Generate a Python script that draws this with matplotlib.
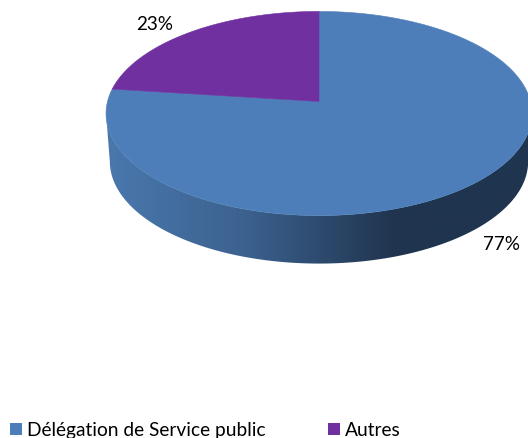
import numpy as np
import matplotlib.pyplot as plt
from matplotlib.colors import LinearSegmentedColormap
from matplotlib.patches import Polygon, Rectangle

categories = ['Délégation de Service public', 'Autres']
values = [77, 23]
labels = ['77%', '23%']
colors = ['#4d7eb9', '#7030a0']

plt.rcParams['font.family'] = ['Lato', 'DejaVu Sans']


# tilted disc -> pixels, perspective so the far half looks smaller
def project(t, scale=1.0, drop=0.0):
    u, v = np.cos(t), np.sin(t)
    d = 1 + 0.1176 * v
    return 319 + scale * 211.5 * u / d, (102.5 - 88.6 * v) / d + drop


fig = plt.figure(figsize=(5.28, 4.39), dpi=100)
ax = fig.add_axes([0, 0, 1, 1])
ax.set_xlim(0, 528)
ax.set_ylim(439, 0)
ax.axis('off')

# side wall, front part of the disc between the two silhouette points
front = np.linspace(np.pi + 0.118, 2 * np.pi - 0.118, 200)
tx, ty = project(front)
bx, by = project(front, scale=0.982, drop=48)
wall = Polygon(np.r_[np.c_[tx, ty], np.c_[bx, by][::-1]], closed=True,
               facecolor='none', edgecolor='none')
ax.add_patch(wall)
shade = LinearSegmentedColormap.from_list('shade', [(0, '#4a78ad'), (0.32, '#3c6290'),
                                                    (0.68, '#20344e'), (1, '#1f344e')])
img = ax.imshow(np.linspace(0, 1, 256)[None, :], extent=(106, 532, 439, 0), cmap=shade,
                aspect='auto', zorder=1)
img.set_clip_path(wall)
ax.set_xlim(0, 528)
ax.set_ylim(439, 0)

# top face, slices run clockwise from 12 o'clock
start = np.pi / 2
for val, col in zip(values, colors):
    end = start - 2 * np.pi * val / sum(values)
    x, y = project(np.linspace(start, end, 200))
    ax.fill(np.r_[319, x], np.r_[102.5, y], facecolor=col, edgecolor=col, lw=0.4, zorder=2)
    start = end

ax.text(502, 245, labels[0], fontsize=13.6, color='black', ha='center', va='center')
ax.text(155, 24, labels[1], fontsize=13.6, color='black', ha='center', va='center')

# legend along the bottom edge
ax.add_patch(Rectangle((10, 424), 12, 12, facecolor=colors[0], edgecolor='none'))
ax.text(27, 436, categories[0], fontsize=13.8, va='baseline')
ax.add_patch(Rectangle((328, 424), 12, 12, facecolor=colors[1], edgecolor='none'))
ax.text(345, 436, categories[1], fontsize=13.8, va='baseline')

fig.savefig('out.png', dpi=100)
